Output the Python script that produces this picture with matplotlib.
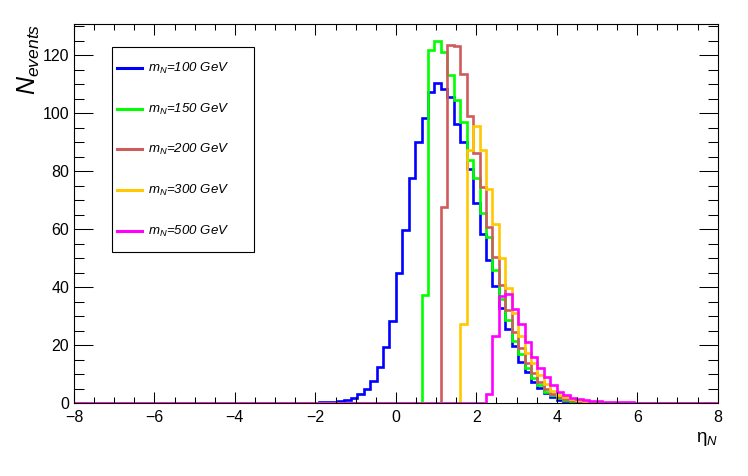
import numpy as np
import matplotlib
matplotlib.use('Agg')
import matplotlib.pyplot as plt
from matplotlib.ticker import MultipleLocator
from matplotlib.lines import Line2D
from matplotlib.patches import Rectangle

plt.rcParams['font.family'] = ['Liberation Sans', 'DejaVu Sans']
plt.rcParams['mathtext.fontset'] = 'custom'
plt.rcParams['mathtext.rm'] = 'Liberation Sans'
plt.rcParams['mathtext.it'] = 'Liberation Sans:italic'
plt.rcParams['mathtext.default'] = 'it'

# binning: 100 bins in eta from -8 to 8
n_bins = 100
eta_min, eta_max = -8.0, 8.0

labels = ['m$_{N}$=100 GeV', 'm$_{N}$=150 GeV', 'm$_{N}$=200 GeV',
          'm$_{N}$=300 GeV', 'm$_{N}$=500 GeV']
colors = ['#0000ff', '#00ff00', '#cf5c5c', '#ffc800', '#ff00ff']

# first non-empty bin index and bin contents
start_100 = 38
counts_100 = [0.5, 0.5, 0.6, 0.8, 1.1, 1.7, 3.2, 4.8, 7.7, 12.6, 19.3, 28.5,
              44.8, 59.8, 77.7, 90.1, 98.2, 107.3, 110.2, 108.4, 105.5, 96.2,
              90.0, 80.6, 68.9, 58.3, 49.4, 40.3, 32.7, 25.6, 19.8, 14.3, 10.9,
              7.4, 5.2, 3.4, 2.3, 1.3, 0.9, 0.5, 0.3, 0.2]
start_150 = 54
counts_150 = [37.3, 121.7, 124.8, 121.0, 113.1, 104.5, 97.0, 83.8, 77.6, 65.6,
              57.4, 45.9, 36.0, 28.6, 21.5, 17.1, 12.0, 8.6, 6.3, 4.0, 2.7,
              1.8, 1.2, 0.8, 0.5, 0.3, 0.2]
start_200 = 57
counts_200 = [67.7, 123.6, 123.1, 113.3, 99.0, 86.3, 74.6, 60.8, 50.3, 40.8,
              32.1, 24.7, 18.9, 13.8, 10.3, 7.2, 5.0, 3.3, 2.2, 1.5, 1.0, 0.6,
              0.4, 0.3]
start_300 = 60
counts_300 = [27.3, 87.3, 95.6, 87.3, 73.8, 61.8, 49.9, 39.6, 31.0, 23.2, 17.4,
              13.8, 9.7, 6.5, 4.4, 3.0, 2.1, 1.5, 1.0, 0.7, 0.5, 0.3]
start_500 = 64
counts_500 = [3.2, 23.3, 37.0, 37.6, 32.5, 27.3, 21.2, 16.1, 12.1, 9.2, 6.3,
              4.0, 2.9, 1.9, 1.4, 1.1, 0.9, 0.8, 0.6, 0.6, 0.5, 0.4, 0.3, 0.2]


def fill(start, counts):
    h = np.zeros(n_bins)
    h[start:start + len(counts)] = counts
    return h


def main():
    edges = np.linspace(eta_min, eta_max, n_bins + 1)
    hists = [fill(start_100, counts_100), fill(start_150, counts_150),
             fill(start_200, counts_200), fill(start_300, counts_300),
             fill(start_500, counts_500)]

    fig = plt.figure(figsize=(7.48, 4.76), dpi=100)
    W, H = 748, 476
    ax = fig.add_axes([74 / W, 1 - 403.3 / H, (717.7 - 74) / W, (403.3 - 24) / H])

    for h, c in zip(hists, colors):
        ax.stairs(h, edges, color=c, linewidth=1.9, joinstyle='miter')

    ax.set_xlim(eta_min, eta_max)
    ax.set_ylim(0, 130.7)
    ax.xaxis.set_major_locator(MultipleLocator(2))
    ax.xaxis.set_minor_locator(MultipleLocator(0.5))
    ax.yaxis.set_major_locator(MultipleLocator(20))
    ax.yaxis.set_minor_locator(MultipleLocator(5))
    ax.tick_params(which='both', direction='in', top=True, right=True,
                   width=0.75, labelsize=11.5, colors='black')
    ax.tick_params(axis='x', which='major', length=8, pad=5)
    ax.tick_params(axis='x', which='minor', length=4)
    ax.tick_params(axis='y', which='major', length=14, pad=3.4)
    ax.tick_params(axis='y', which='minor', length=7)
    for s in ax.spines.values():
        s.set_linewidth(0.8)

    fig.text(29 / W, 1 - 24 / H, '$N_{events}$', rotation=90, fontsize=18,
             ha='center', va='top')
    fig.text(718 / W, 1 - 430 / H, 'η$_{N}$', fontsize=13.5, ha='right', va='top')

    # legend box
    fig.patches.append(Rectangle((112 / W, 1 - 252 / H), 142 / W, 205 / H,
                                 transform=fig.transFigure, fill=False,
                                 edgecolor='black', linewidth=0.8))
    rows = [68, 109, 149, 190, 231]
    for y, c, lab in zip(rows, colors, labels):
        fig.lines.append(Line2D([117 / W, 142 / W], [1 - y / H, 1 - y / H],
                                transform=fig.transFigure, color=c, linewidth=2.2))
        fig.text(148 / W, 1 - y / H, lab, fontsize=9.5, style='italic',
                 ha='left', va='center')

    fig.savefig('out.png', dpi=100)


if __name__ == '__main__':
    main()
